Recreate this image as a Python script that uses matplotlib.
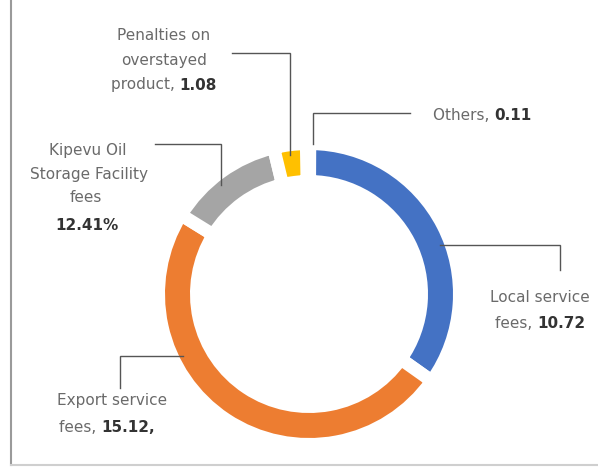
import numpy as np
import matplotlib
matplotlib.use("Agg")
import matplotlib.pyplot as plt
from matplotlib.offsetbox import TextArea, HPacker, AnnotationBbox

# Revenue streams, clockwise from the top of the ring
segments = ["Others", "Local service fees", "Export service fees",
            "Kipevu Oil Storage Facility fees", "Penalties on overstayed product"]
others = 0.11
local_fees = 10.72
export_fees = 15.12
penalties = 1.08
kipevu_pct = 12.41  # only given as a share of the total

known = others + local_fees + export_fees + penalties
kipevu = kipevu_pct / (100 - kipevu_pct) * known
values = [others, local_fees, export_fees, kipevu, penalties]
colors = ["#A5A5A5", "#4472C4", "#ED7D31", "#A5A5A5", "#FFC000"]

W, H = 598, 472
CX, CY = 309, 178
GAP = 13          # white gap between segments, px
RADIUS = 144 + GAP / 2
RING = 25 + GAP

TXT = "#6a6a6a"
NUM = "#333333"
LINE = "#555555"
FS = 11


def label_line(ax, x, y, plain, bold=""):
    parts = [TextArea(plain, textprops=dict(color=TXT, fontsize=FS))]
    if bold:
        parts.append(TextArea(bold, textprops=dict(color=NUM, fontsize=FS,
                                                   fontweight="bold")))
    box = HPacker(children=parts, align="baseline", pad=0, sep=0)
    ab = AnnotationBbox(box, (x, y), xycoords="data", frameon=False,
                        box_alignment=(0.5, 0.5), pad=0)
    ax.add_artist(ab)


def leader(ax, start, elbow, hit_r=140, side="top"):
    """Two-segment leader from a label to the ring."""
    ex, ey = elbow
    if start[1] == ey:
        # horizontal then vertical onto the ring
        dx = ex - CX
        dy = np.sqrt(hit_r ** 2 - dx ** 2)
        end = (ex, CY + dy if side == "top" else CY - dy)
    else:
        # vertical then horizontal onto the ring
        dy = ey - CY
        dx = np.sqrt(hit_r ** 2 - dy ** 2)
        end = (CX + dx if side == "right" else CX - dx, ey)
    xs = [start[0], ex, end[0]]
    ys = [start[1], ey, end[1]]
    ax.plot(xs, ys, color=LINE, lw=1, solid_joinstyle="miter")


fig = plt.figure(figsize=(W / 100, H / 100), dpi=100)
ax = fig.add_axes([0, 0, 1, 1])

ax.pie(values, colors=colors, startangle=91, counterclock=False,
       radius=RADIUS, center=(CX, CY),
       wedgeprops=dict(width=RING, edgecolor="white", linewidth=GAP * 0.72))

ax.set_xlim(0, W)
ax.set_ylim(0, H)
ax.set_aspect("equal")
ax.axis("off")

# frame lines on the left and bottom
ax.plot([11, 11], [7, H], color="#9a9a9a", lw=1.5)
ax.plot([11, W], [7, 7], color="#cfcfcf", lw=1.5)

# Penalties on overstayed product
label_line(ax, 164, 437, "Penalties on")
label_line(ax, 164, 412, "overstayed")
label_line(ax, 164, 387, "product, ", f"{penalties:.2f}")
leader(ax, (232, 419), (290, 419))

# Others
label_line(ax, 482, 357, "Others, ", f"{others:.2f}")
leader(ax, (410, 359), (313, 359), hit_r=150)

# Kipevu
label_line(ax, 88, 322, "Kipevu Oil")
label_line(ax, 89, 297, "Storage Facility")
label_line(ax, 86, 275, "fees")
label_line(ax, 87, 247, "", f"{kipevu_pct:.2f}%")
leader(ax, (155, 328), (221, 328))

# Local service fees
label_line(ax, 540, 174, "Local service")
label_line(ax, 540, 149, "fees, ", f"{local_fees:.2f}")
leader(ax, (560, 202), (560, 227), side="right")

# Export service fees
label_line(ax, 112, 72, "Export service")
label_line(ax, 107, 44, "fees, ", f"{export_fees:.2f},")
leader(ax, (120, 84), (120, 116), side="left")

fig.savefig("out.png", dpi=100, facecolor="white")
